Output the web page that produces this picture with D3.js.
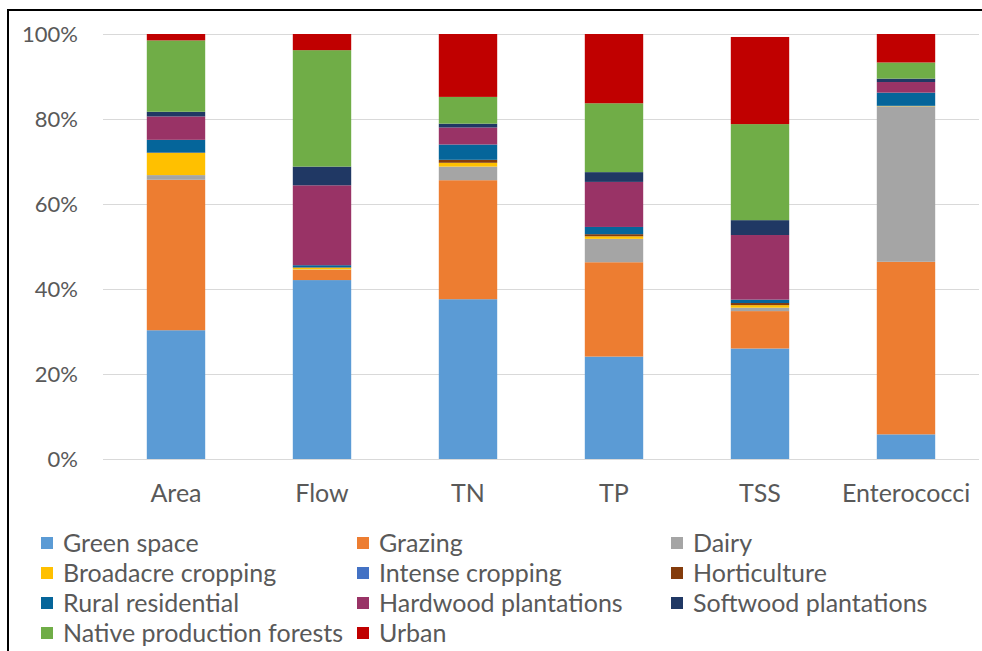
<!DOCTYPE html>
<html>
<head>
<meta charset="utf-8">
<script src="https://cdn.jsdelivr.net/npm/d3@7"></script>
<style>
  html, body { margin: 0; padding: 0; background: #fff; }
  svg { display: block; }
  text { font-family: "Lato", "Liberation Sans", sans-serif; fill: #595959; }
</style>
</head>
<body>
<svg id="chart" width="982" height="651"></svg>
<script>
const categories = ["Area", "Flow", "TN", "TP", "TSS", "Enterococci"];
const seriesNames = ["Green space", "Grazing", "Dairy", "Broadacre cropping", "Intense cropping",
  "Horticulture", "Rural residential", "Hardwood plantations", "Softwood plantations",
  "Native production forests", "Urban"];
const seriesColors = ["#5B9BD5", "#ED7D31", "#A5A5A5", "#FFC000", "#4472C4",
  "#843C0C", "#05659A", "#993366", "#203864", "#70AD47", "#C00000"];
// percentages per category, in series order
const greenSpace   = [30.3, 42.1, 37.6, 24.1, 26.0, 5.8];
const grazing      = [35.4, 2.4, 28.0, 22.2, 8.8, 40.6];
const dairy        = [1.1, 0.1, 3.2, 5.5, 0.8, 36.6];
const broadacre    = [5.2, 0.4, 0.9, 0.6, 0.6, 0.1];
const intense      = [0.0, 0.0, 0.0, 0.0, 0.0, 0.0];
const horticulture = [0.1, 0.1, 0.7, 0.5, 0.5, 0.0];
const rural        = [3.0, 0.5, 3.6, 1.7, 0.8, 3.1];
const hardwood     = [5.5, 18.8, 4.0, 10.6, 15.2, 2.5];
const softwood     = [1.1, 4.4, 0.9, 2.3, 3.5, 0.8];
const nativeForest = [16.8, 27.4, 6.3, 16.2, 22.6, 3.8];
const urban        = [1.5, 3.8, 14.8, 16.3, 20.5, 6.7];
const yTicks = [0, 0.2, 0.4, 0.6, 0.8, 1.0];

const seriesValues = [greenSpace, grazing, dairy, broadacre, intense, horticulture,
  rural, hardwood, softwood, nativeForest, urban];

const table = categories.map((c, i) => {
  const row = { category: c };
  seriesNames.forEach((s, j) => { row[s] = seriesValues[j][i] / 100; });
  return row;
});

const svg = d3.select("#chart");

// frame
svg.append("path").attr("d", "M8,651 L8,10 L982,10")
  .attr("fill", "none").attr("stroke", "#000").attr("stroke-width", 2);

const x = d3.scaleBand().domain(categories).range([103, 979]).paddingInner(0.6).paddingOuter(0.3);
const y = d3.scaleLinear().domain([0, 1]).range([459, 34]);

// gridlines
svg.append("g").selectAll("line").data(yTicks).join("line")
  .attr("x1", 103).attr("x2", 979)
  .attr("y1", d => Math.round(y(d)) + 0.5).attr("y2", d => Math.round(y(d)) + 0.5)
  .attr("stroke", "#D9D9D9").attr("stroke-width", 1);

const stack = d3.stack().keys(seriesNames);
const stacked = stack(table);

svg.append("g").selectAll("g").data(stacked).join("g")
  .attr("fill", (d, i) => seriesColors[i])
  .selectAll("rect").data(d => d).join("rect")
  .attr("x", d => x(d.data.category))
  .attr("width", x.bandwidth())
  .attr("y", d => y(d[1]))
  .attr("height", d => Math.max(0, y(d[0]) - y(d[1])));

// y axis
const yAxis = d3.axisLeft(y).tickValues(yTicks).tickFormat(d3.format(".0%")).tickSize(0).tickPadding(0);
const yg = svg.append("g").attr("transform", "translate(78,0)").call(yAxis);
yg.select(".domain").remove();
yg.selectAll("text").attr("font-size", 22).style("fill", "#595959").attr("font-family", "Lato");

// x axis
const xAxis = d3.axisBottom(x).tickSize(0).tickPadding(0);
const xg = svg.append("g").attr("transform", "translate(0,484)").call(xAxis);
xg.select(".domain").remove();
xg.selectAll("text").attr("font-size", 25).style("fill", "#595959").attr("font-family", "Lato");

// legend
const legendCols = [41, 357, 671];
const legend = svg.append("g").selectAll("g").data(seriesNames).join("g")
  .attr("transform", (d, i) => `translate(${legendCols[i % 3]},${543 + Math.floor(i / 3) * 30})`);
legend.append("rect").attr("x", 0).attr("y", -6).attr("width", 12).attr("height", 12)
  .attr("fill", (d, i) => seriesColors[i]);
legend.append("text").attr("x", 22).attr("y", 0).attr("dy", "0.35em")
  .attr("font-size", 25).text(d => d);
</script>
</body>
</html>
